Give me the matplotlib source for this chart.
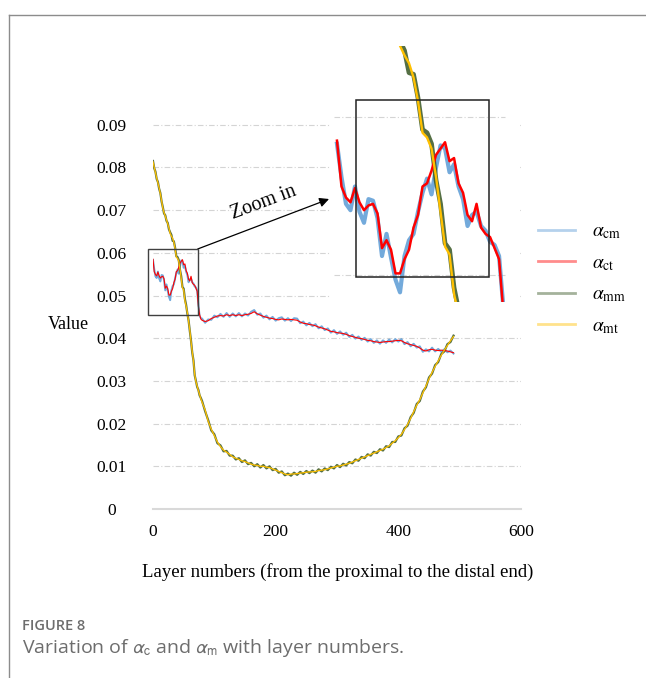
import numpy as np
import matplotlib
matplotlib.use("Agg")
import matplotlib.pyplot as plt
from matplotlib.patches import Rectangle
from matplotlib.lines import Line2D

# ── Layer grid: every 2 layers near the proximal end, every 5 afterwards ──────
LAYERS = np.concatenate([np.arange(0, 80, 2), np.arange(80, 491, 5)])

# contact-based alpha (computed / theoretical)
ALPHA_CT = [0.0585, 0.0556, 0.0549, 0.0546, 0.0555, 0.0546, 0.0541, 0.0544, 0.0545, 0.0539,
            0.0517, 0.0522, 0.0516, 0.0501, 0.0501, 0.0510, 0.0516, 0.0530, 0.0538, 0.0556,
            0.0558, 0.0566, 0.0576, 0.0580, 0.0584, 0.0572, 0.0574, 0.0558, 0.0552, 0.0538,
            0.0534, 0.0545, 0.0530, 0.0526, 0.0524, 0.0517, 0.0510, 0.0475, 0.0455, 0.0445] + \
           [0.0442, 0.0439, 0.0441, 0.0446, 0.0449, 0.0452, 0.0453, 0.0452, 0.0455, 0.0453,
            0.0455, 0.0453, 0.0455, 0.0453, 0.0455, 0.0456, 0.0458, 0.0462, 0.0457, 0.0454,
            0.0451, 0.0449, 0.0447, 0.0446, 0.0444, 0.0443, 0.0445, 0.0444, 0.0443, 0.0444,
            0.0443, 0.0442, 0.0438, 0.0435, 0.0434, 0.0432, 0.0431, 0.0429, 0.0426, 0.0424,
            0.0422, 0.0419, 0.0416, 0.0415, 0.0413, 0.0412, 0.0411, 0.0409, 0.0406, 0.0404,
            0.0402, 0.0400, 0.0399, 0.0397, 0.0395, 0.0394, 0.0392, 0.0391, 0.0390, 0.0391,
            0.0392, 0.0392, 0.0393, 0.0394, 0.0395, 0.0394, 0.0390, 0.0387, 0.0385, 0.0383,
            0.0381, 0.0377, 0.0372, 0.0370, 0.0373, 0.0374, 0.0372, 0.0371, 0.0372, 0.0371,
            0.0370, 0.0368, 0.0366]

ALPHA_CM = [0.0583, 0.0562, 0.0545, 0.0541, 0.0556, 0.0540, 0.0533, 0.0548, 0.0547, 0.0536,
            0.0512, 0.0526, 0.0511, 0.0497, 0.0489, 0.0512, 0.0522, 0.0526, 0.0540, 0.0552,
            0.0561, 0.0551, 0.0568, 0.0582, 0.0580, 0.0565, 0.0570, 0.0556, 0.0548, 0.0531,
            0.0538, 0.0540, 0.0531, 0.0528, 0.0521, 0.0519, 0.0512, 0.0478, 0.0452, 0.0447] + \
           [0.0446, 0.0436, 0.0444, 0.0443, 0.0453, 0.0449, 0.0457, 0.0450, 0.0459, 0.0450,
            0.0458, 0.0451, 0.0459, 0.0451, 0.0458, 0.0453, 0.0462, 0.0466, 0.0455, 0.0458,
            0.0448, 0.0453, 0.0444, 0.0450, 0.0441, 0.0447, 0.0449, 0.0441, 0.0447, 0.0440,
            0.0447, 0.0446, 0.0435, 0.0439, 0.0430, 0.0436, 0.0428, 0.0433, 0.0423, 0.0428,
            0.0419, 0.0423, 0.0413, 0.0419, 0.0410, 0.0416, 0.0408, 0.0413, 0.0403, 0.0408,
            0.0399, 0.0404, 0.0396, 0.0401, 0.0392, 0.0398, 0.0389, 0.0395, 0.0387, 0.0395,
            0.0389, 0.0397, 0.0390, 0.0398, 0.0392, 0.0398, 0.0386, 0.0391, 0.0381, 0.0387,
            0.0378, 0.0381, 0.0368, 0.0374, 0.0369, 0.0378, 0.0369, 0.0375, 0.0368, 0.0374,
            0.0367, 0.0371, 0.0364]

# material-based alpha (theoretical / computed)
ALPHA_MT = [0.0813, 0.0800, 0.0788, 0.0775, 0.0764, 0.0752, 0.0738, 0.0722, 0.0705, 0.0694,
            0.0686, 0.0677, 0.0668, 0.0658, 0.0645, 0.0639, 0.0634, 0.0625, 0.0610, 0.0590,
            0.0587, 0.0580, 0.0562, 0.0540, 0.0518, 0.0513, 0.0488, 0.0475, 0.0460, 0.0440,
            0.0419, 0.0392, 0.0368, 0.0346, 0.0315, 0.0298, 0.0288, 0.0277, 0.0268, 0.0258] + \
           [0.0250, 0.0232, 0.0205, 0.0187, 0.0172, 0.0157, 0.0146, 0.0138, 0.0133, 0.0128,
            0.0122, 0.0119, 0.0116, 0.0113, 0.0111, 0.0108, 0.0105, 0.0103, 0.0102, 0.0100,
            0.0100, 0.0098, 0.0097, 0.0094, 0.0091, 0.0088, 0.0085, 0.0082, 0.0080, 0.0082,
            0.0082, 0.0083, 0.0084, 0.0085, 0.0086, 0.0087, 0.0087, 0.0088, 0.0090, 0.0091,
            0.0092, 0.0094, 0.0096, 0.0098, 0.0100, 0.0101, 0.0103, 0.0105, 0.0107, 0.0110,
            0.0113, 0.0116, 0.0119, 0.0122, 0.0125, 0.0128, 0.0131, 0.0134, 0.0137, 0.0140,
            0.0144, 0.0148, 0.0154, 0.0160, 0.0167, 0.0175, 0.0186, 0.0198, 0.0212, 0.0228,
            0.0243, 0.0256, 0.0272, 0.0288, 0.0305, 0.0320, 0.0334, 0.0347, 0.0360, 0.0372,
            0.0383, 0.0394, 0.0404]

ALPHA_MM = [0.0815, 0.0798, 0.0790, 0.0773, 0.0766, 0.0750, 0.0740, 0.0720, 0.0707, 0.0692,
            0.0688, 0.0675, 0.0670, 0.0655, 0.0648, 0.0642, 0.0628, 0.0627, 0.0612, 0.0592,
            0.0590, 0.0583, 0.0560, 0.0545, 0.0520, 0.0516, 0.0492, 0.0478, 0.0458, 0.0442,
            0.0417, 0.0394, 0.0366, 0.0348, 0.0313, 0.0300, 0.0286, 0.0279, 0.0266, 0.0260] + \
           [0.0253, 0.0229, 0.0208, 0.0184, 0.0175, 0.0154, 0.0149, 0.0135, 0.0136, 0.0125,
            0.0125, 0.0116, 0.0119, 0.0110, 0.0114, 0.0105, 0.0108, 0.0100, 0.0105, 0.0097,
            0.0103, 0.0095, 0.0100, 0.0091, 0.0094, 0.0085, 0.0088, 0.0079, 0.0083, 0.0078,
            0.0085, 0.0080, 0.0087, 0.0082, 0.0089, 0.0084, 0.0090, 0.0085, 0.0093, 0.0088,
            0.0095, 0.0091, 0.0099, 0.0095, 0.0103, 0.0098, 0.0106, 0.0102, 0.0110, 0.0107,
            0.0116, 0.0113, 0.0122, 0.0119, 0.0128, 0.0125, 0.0134, 0.0131, 0.0140, 0.0137,
            0.0147, 0.0145, 0.0157, 0.0157, 0.0170, 0.0172, 0.0189, 0.0195, 0.0215, 0.0225,
            0.0246, 0.0253, 0.0275, 0.0285, 0.0308, 0.0317, 0.0337, 0.0344, 0.0363, 0.0369,
            0.0386, 0.0391, 0.0406]

X_TICKS = [0, 200, 400, 600]
Y_TICKS = [0, 0.01, 0.02, 0.03, 0.04, 0.05, 0.06, 0.07, 0.08, 0.09]
Y_TICK_LABELS = ["0", "0.01", "0.02", "0.03", "0.04", "0.05", "0.06", "0.07", "0.08", "0.09"]
INSET_GRID = [0.05, 0.06]

SERIES = [
    (ALPHA_CM, r"$\alpha_{\rm cm}$", "#5B9BD5"),
    (ALPHA_CT, r"$\alpha_{\rm ct}$", "#FF0000"),
    (ALPHA_MM, r"$\alpha_{\rm mm}$", "#375623"),
    (ALPHA_MT, r"$\alpha_{\rm mt}$", "#FFC000"),
]
# (main lw, inset lw, z) -- the "measured" curves sit underneath as a halo
WIDTHS = [(1.4, 3.0, 2), (0.8, 1.8, 3), (1.6, 3.4, 2), (0.9, 1.7, 3)]

plt.rcParams["font.family"] = "Liberation Serif"
plt.rcParams["mathtext.fontset"] = "stix"

W, H = 646, 678
fig = plt.figure(figsize=(W / 100, H / 100), dpi=100)


def frac(x0, y0, x1, y1):
    # pixel box (origin top-left) -> figure-fraction rect
    return [x0 / W, 1 - y1 / H, (x1 - x0) / W, (y1 - y0) / H]


# ── main axes ────────────────────────────────────────────────────────────────
ax = fig.add_axes(frac(153, 82, 521, 509))
handles = []
for (vals, lbl, col), (lw, _, z) in zip(SERIES, WIDTHS):
    alpha = 0.85 if z == 2 else 1.0
    h, = ax.plot(LAYERS, vals, color=col, lw=lw, alpha=alpha, label=lbl, zorder=z)
    handles.append(h)

ax.set_xlim(0, 600)
ax.set_ylim(0, 0.1)
ax.set_xticks(X_TICKS)
ax.set_yticks(Y_TICKS)
ax.set_yticklabels(Y_TICK_LABELS)
for s in ("top", "right", "left"):
    ax.spines[s].set_visible(False)
ax.spines["bottom"].set_color("#d9d9d9")
ax.spines["bottom"].set_linewidth(1.5)
ax.tick_params(length=0, labelsize=12.5)
ax.tick_params(axis="y", pad=30)
ax.tick_params(axis="x", pad=11)
for t in ax.get_yticklabels():
    t.set_horizontalalignment("center")
    t.set_fontfamily("Liberation Serif")
for t in ax.get_xticklabels():
    t.set_fontfamily("Liberation Serif")
for y in Y_TICKS[1:]:
    ax.axhline(y, color="#d4d4d4", lw=0.8, ls=(0, (5, 2, 1, 2)), zorder=1)

ax.set_xlabel("Layer numbers (from the proximal to the distal end)", fontsize=13.5)
ax.xaxis.set_label_coords(0.503, -0.1475)
ax.xaxis.label.set_verticalalignment("center")
ax.set_ylabel("Value", fontsize=13, rotation=0, ha="center", va="center")
ax.yaxis.set_label_coords(-0.231, 0.431)

# zoom box + arrow
ax.add_patch(Rectangle((-8, 0.0454), 81, 0.0155, fill=False, ec="#404040",
                       lw=1.0, clip_on=False, zorder=4))
ax.annotate("", xy=(287, 0.0726), xytext=(73, 0.0609),
            arrowprops=dict(arrowstyle="-|>", color="black", lw=0.9,
                            mutation_scale=14, shrinkA=0, shrinkB=0),
            annotation_clip=False)
ax.text(181, 0.0717, "Zoom in", rotation=20.5, ha="center", va="center",
        fontsize=14.5, rotation_mode="anchor")

fig.legend(handles=handles, loc="upper left", bbox_to_anchor=(538 / W, 1 - 223 / H),
           frameon=False, fontsize=14, handlelength=1.9, handletextpad=0.9,
           labelspacing=0.68, borderpad=0, borderaxespad=0)
for ln in fig.legends[0].get_lines():
    ln.set_alpha(0.45)
    ln.set_linewidth(2)

# ── magnified inset ──────────────────────────────────────────────────────────
axin = fig.add_axes(frac(330, 46, 520, 302))
for (vals, lbl, col), (_, lw, z) in zip(SERIES, WIDTHS):
    alpha = 0.85 if z == 2 else 1.0
    axin.plot(LAYERS, vals, color=col, lw=lw, alpha=alpha, zorder=z)
axin.set_xlim(-3.1, 81.3)
axin.set_ylim(0.04829, 0.06449)
axin.set_xticks([])
axin.set_yticks([])
for s in axin.spines.values():
    s.set_visible(False)
for y in INSET_GRID:
    axin.axhline(y, xmin=0.02, xmax=0.92, color="#d4d4d4", lw=0.8,
                 ls=(0, (5, 2, 1, 2)), zorder=1)
axin.add_patch(Rectangle((8.4, 0.0499), 59.2, 0.0112, fill=False, ec="#222222",
                         lw=1.1, zorder=4))

# ── page frame + caption ─────────────────────────────────────────────────────
fig.add_artist(Line2D([9 / W, 1], [1 - 15 / H, 1 - 15 / H], transform=fig.transFigure,
                      color="#8c8c8c", lw=1))
fig.add_artist(Line2D([9 / W, 9 / W], [0, 1 - 15 / H], transform=fig.transFigure,
                      color="#8c8c8c", lw=1))
fig.text(22 / W, 1 - 626 / H, "FIGURE 8", family="Open Sans", weight="semibold",
         color="#6d6d6d", fontsize=10.5, va="center")
fig.text(22 / W, 1 - 648 / H,
         r"Variation of $\alpha_{\rm c}$ and $\alpha_{\rm m}$ with layer numbers.",
         family="Open Sans", color="#6d6d6d", fontsize=14, va="center",
         math_fontfamily="stixsans")

fig.savefig("out.png", dpi=100)
